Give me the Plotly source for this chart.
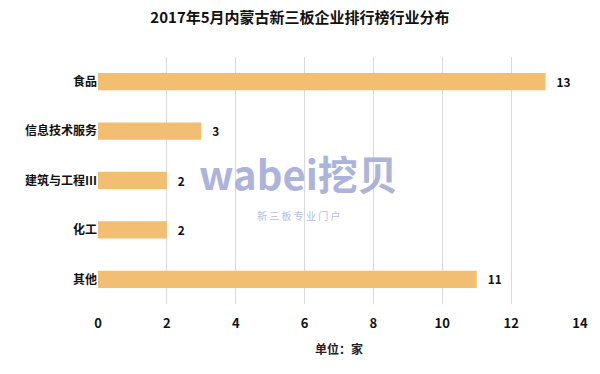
import plotly.graph_objects as go

categories = ["食品", "信息技术服务", "建筑与工程Ⅲ", "化工", "其他"]
values = [13, 3, 2, 2, 11]
x_ticks = [0, 2, 4, 6, 8, 10, 12, 14]

FONT = "Noto Sans CJK SC"

fig = go.Figure()
fig.add_trace(go.Bar(
    y=categories, x=values, orientation="h",
    marker=dict(color="#F2BE72", line=dict(width=0)),
    width=0.35,
    text=[f"\u00a0\u00a0\u00a0<b>{v}</b>" for v in values], textposition="outside",
    textfont=dict(family=FONT, size=13, color="#111111"),
    cliponaxis=False,
))

fig.update_layout(
    width=600, height=374,
    margin=dict(l=98, r=15, t=57, b=70),
    paper_bgcolor="white", plot_bgcolor="white",
    showlegend=False,
    title=dict(text="<b>2017年5月内蒙古新三板企业排行榜行业分布</b>",
               x=0.5, xanchor="center", y=0.952, yanchor="middle",
               font=dict(family=FONT, size=15, color="#111111")),
    xaxis=dict(range=[0, 14], tickvals=x_ticks,
               ticktext=[f"<b>{t}</b>" for t in x_ticks],
               showgrid=True, gridcolor="#D9D9D9", gridwidth=1,
               zeroline=False, showline=False,
               tickfont=dict(family=FONT, size=13, color="#111111"),
               ticks="", ticklen=0, ticklabelstandoff=10,
               title=dict(text="<b>单位：家</b>", font=dict(family=FONT, size=12, color="#222222"),
                          standoff=14)),
    yaxis=dict(autorange="reversed", showgrid=False, zeroline=False, showline=False,
               ticks="", ticklen=0,
               tickfont=dict(family=FONT, size=12, color="#111111"),
               ticksuffix="  "),
    bargap=0.65,
)
fig.update_yaxes(ticktext=[f"<b>{c}</b>" for c in categories], tickvals=categories)

# watermark
fig.add_annotation(text="<b>wabei挖贝</b>", xref="paper", yref="paper", x=0.415, y=0.405,
                   xanchor="center", yanchor="bottom",
                   showarrow=False, font=dict(family=FONT, size=40, color="#9FA8D6"), opacity=0.85)
fig.add_annotation(text="新 三 板 专 业 门 户", xref="paper", yref="paper", x=0.415, y=0.395,
                   xanchor="center", yanchor="top",
                   showarrow=False, font=dict(family=FONT, size=10, color="#A9B1DB"), opacity=0.85)

fig.write_html("out.html")
